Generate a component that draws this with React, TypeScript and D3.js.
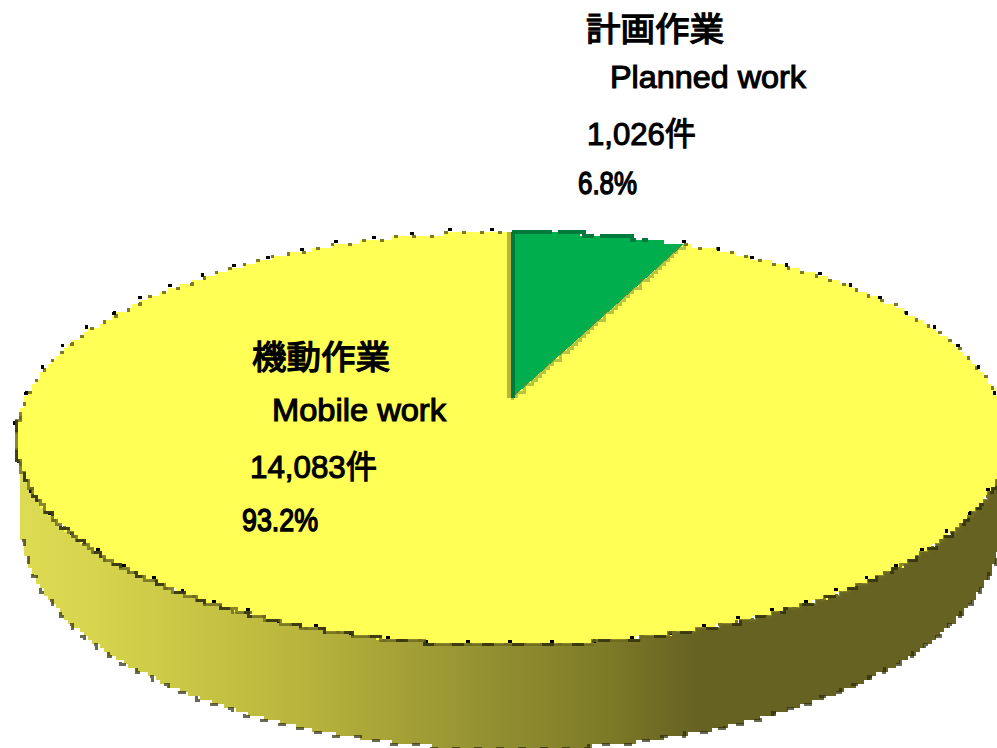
import React from 'react';
import * as d3 from 'd3';

const categories = ['計画作業', '機動作業'];
const englishNames = ['Planned work', 'Mobile work'];
const counts = [1026, 14083];
const countLabels = ['1,026件', '14,083件'];
const percentLabels = ['6.8%', '93.2%'];
const colors = ['#00ae4d', '#ffff55'];
const sideStops: [number, string][] = [[0, '#dcdb52'], [0.08, '#d6d44c'], [0.283, '#b9b53d'], [0.498, '#8f8c30'], [0.59, '#7f7c28'], [0.69, '#666222'], [1, '#666222']];
const textBlocks = [
  { ys: [41, 88, 145, 194], xs: [586, 610, 587, 578], ws: [138, 196, 109, 59] },
  { ys: [369, 421, 478, 531], xs: [252, 272, 250, 242], ws: [138, 174, 127, 76] },
];

const W = 997, H = 748;
const CELL = 4; // the picture's coarse pixel size
// perspective projection of the unit disc onto the tilted top face
const apex = { x: 512, y: 398 };
const persp = -0.196, kx = 486.6, ky = 198.6;
const project = (a: number) => {
  const sx = Math.sin(a), sy = -Math.cos(a);
  const d = 1 + persp * sy;
  return [apex.x + (kx * sx) / d, apex.y + (ky * sy) / d] as [number, number];
};
const low = { cx: 511, cy: 526, rx: 490, ry: 223 };
const snap = (p: [number, number]) => [Math.round(p[0] / CELL) * CELL, Math.round(p[1] / CELL) * CELL] as [number, number];
const stepLine = d3.line().curve(d3.curveStepAfter);

export default function App() {
  const pie = d3.pie<number>().sort(null)(counts);
  const arcPts = (a0: number, a1: number, n: number) => d3.range(n + 1).map((i) => project(a0 + ((a1 - a0) * i) / n));
  const slicePath = (s: d3.PieArcDatum<number>) =>
    `M${apex.x},${apex.y}L` + stepLine(arcPts(s.startAngle, s.endAngle, 500).map(snap))!.slice(1) + 'Z';
  const startT = Math.PI / 2 + 0.06, endT = (3 * Math.PI) / 2 - 0.06;
  const ts = d3.range(0, 401).map((i) => startT + ((endT - startT) * i) / 400);
  const lowPts = ts.map((t) => snap([low.cx + low.rx * Math.sin(t), low.cy - low.ry * Math.cos(t)]));
  const sideTop = ts.map((t) => snap(project(t)));
  const side = stepLine([...sideTop, ...lowPts.slice().reverse()]) + 'Z';
  const xGrad = d3.scaleLinear().domain([0, 1]).range([low.cx - low.rx, low.cx + low.rx]);
  const backRim = stepLine(arcPts(pie[1].startAngle, pie[1].endAngle, 500).map(snap))!;
  const greenRim = stepLine(arcPts(0, pie[0].endAngle * 0.8, 60).map(snap))!;
  const frontRim = stepLine(sideTop)!;
  const lowRim = stepLine(lowPts)!;
  const boundary = stepLine(d3.range(0, 101).map((i) => {
    const e = project(pie[0].endAngle), f = i / 100;
    return snap([apex.x + (e[0] - apex.x) * f, apex.y + (e[1] - apex.y) * f]);
  }))!;

  return (
    <svg width={W} height={H} style={{ position: 'fixed', left: 0, top: 0, background: '#fff' }}>
      <defs>
        <linearGradient id="side" gradientUnits="userSpaceOnUse" x1={xGrad(0)} x2={xGrad(1)} y1={0} y2={0}>
          {sideStops.map(([o, c]) => <stop key={o} offset={o} stopColor={c} />)}
        </linearGradient>
      </defs>
      <path d={side} fill="url(#side)" shapeRendering="crispEdges" />
      <path d={lowRim} fill="none" stroke="#2b2a0c" strokeWidth={3} strokeDasharray="8 14" shapeRendering="crispEdges" opacity={0.7} />
      {pie.map((s, i) => (
        <path key={i} d={slicePath(s)} fill={colors[i]} shapeRendering="crispEdges" />
      ))}
      <path d={boundary} fill="none" stroke="#6f8a2e" strokeWidth={3} opacity={0.5} shapeRendering="crispEdges" />
      <path d={backRim} fill="none" stroke="#7d7a26" strokeWidth={3} strokeDasharray="4 14" shapeRendering="crispEdges" />
      <path d={backRim} fill="none" stroke="#000" strokeWidth={3} strokeDasharray="4 38" transform="translate(-2,-3)" shapeRendering="crispEdges" />
      <path d={frontRim} fill="none" stroke="#6b6820" strokeWidth={3} opacity={0.8} shapeRendering="crispEdges" />
      <path d={frontRim} fill="none" stroke="#2b2a0c" strokeWidth={3} strokeDasharray="12 18" opacity={0.75} shapeRendering="crispEdges" />
      <line x1={apex.x - 3} x2={apex.x - 3} y1={project(0)[1]} y2={apex.y} stroke="#b9b43c" strokeWidth={4} shapeRendering="crispEdges" />
      <line x1={apex.x + 1} x2={apex.x + 1} y1={project(0)[1]} y2={apex.y} stroke="#007a3c" strokeWidth={4} shapeRendering="crispEdges" />
      <path d={greenRim} fill="none" stroke="#007a3c" strokeWidth={4} strokeDasharray="40 6" shapeRendering="crispEdges" />
      {textBlocks.map((b, i) => {
        const lines = [categories[i], englishNames[i], countLabels[i], percentLabels[i]];
        return lines.map((t, j) => (
          <text key={i + '-' + j} x={b.xs[j]} y={b.ys[j]} textLength={b.ws[j]} lengthAdjust="spacingAndGlyphs"
            fontFamily="'Liberation Sans','Noto Sans CJK JP',sans-serif" fontSize={j === 0 ? 33 : 32} fill="#000"
            stroke="#000" strokeWidth={j === 0 ? 1.3 : j === 3 ? 1.5 : 1.1}>{t}</text>
        ));
      })}
    </svg>
  );
}
